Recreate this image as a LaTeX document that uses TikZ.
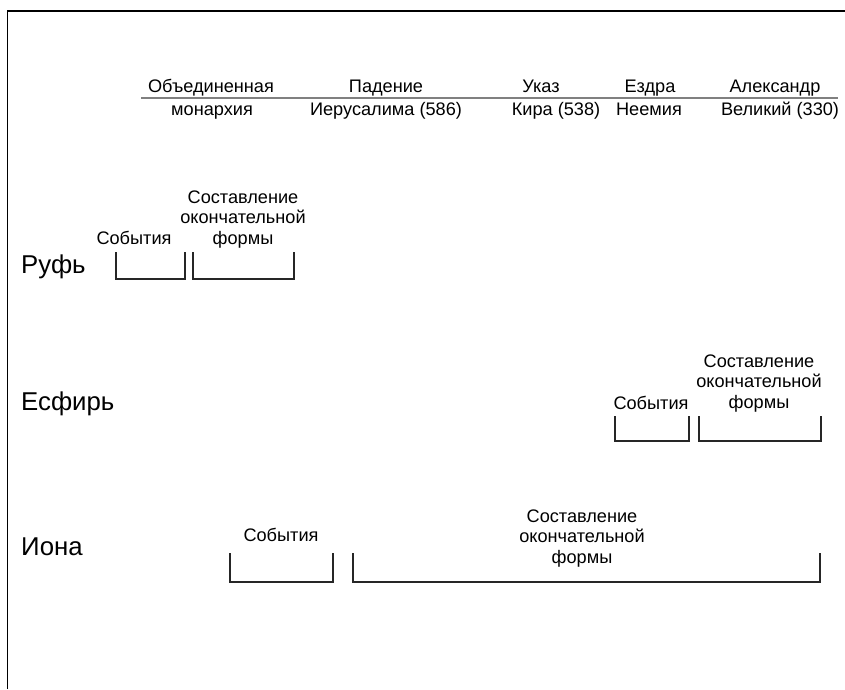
\documentclass[tikz,border=0pt]{standalone}
\usepackage{fontspec}
\setmainfont{Liberation Sans}
\begin{document}
\begin{tikzpicture}[
    x=0.03cm,
    y=-0.03cm,
    small/.style={
        inner sep=0pt,
        anchor=base,
        align=center,
        font=\fontsize{15.5}{17.5}\selectfont
    },
    book/.style={
        inner sep=0pt,
        anchor=base west,
        font=\fontsize{22}{26}\selectfont
    },
    bracket/.style={
        draw=black!85,
        line width=1.5pt
    },
    era/.style={
        draw=black!50,
        line width=2.4pt
    }
]

\useasboundingbox (0,0) rectangle (845,689);

% frame
\draw[line width=1.7pt] (7.5,689) -- (7.5,11) -- (845,11);

% timeline
\coordinate (tstart) at (141,98);
\coordinate (tend) at (838,98);
\draw[era] (tstart) -- (tend);

\node[small] (monTop) at (211,92) {Объединенная};
\node[small] (monBot) at (212,115) {монархия};
\node[small] (fallTop) at (386,92) {Падение};
\node[small] (fallBot) at (386,115) {Иерусалима (586)};
\node[small] (cyrTop) at (541,92) {Указ};
\node[small] (cyrBot) at (556,115) {Кира (538)};
\node[small] (ezraTop) at (650,92) {Ездра};
\node[small] (ezraBot) at (649,115) {Неемия};
\node[small] (alexTop) at (775,92) {Александр};
\node[small] (alexBot) at (780,115) {Великий (330)};

% Руфь
\node[book] (ruth) at (21,273) {Руфь};
\node[small] (ruthEv) at (134,244) {События};
\node[small] (ruthComp) at (243,244) {Составление\\окончательной\\формы};
\draw[bracket] (116,252) |- (185,279) -- (185,252);
\draw[bracket] (193,252) |- (294,279) -- (294,252);

% Есфирь
\node[book] (esther) at (21,410) {Есфирь};
\node[small] (estherEv) at (651,409) {События};
\node[small] (estherComp) at (759,408) {Составление\\окончательной\\формы};
\draw[bracket] (615,416) |- (689,441) -- (689,416);
\draw[bracket] (699,416) |- (821,441) -- (821,416);

% Иона
\node[book] (jonah) at (21,555) {Иона};
\node[small] (jonahEv) at (281,541) {События};
\node[small] (jonahComp) at (582,563) {Составление\\окончательной\\формы};
\draw[bracket] (230,553) |- (333,582) -- (333,553);
\draw[bracket] (353,553) |- (820,582) -- (820,553);

\end{tikzpicture}
\end{document}
